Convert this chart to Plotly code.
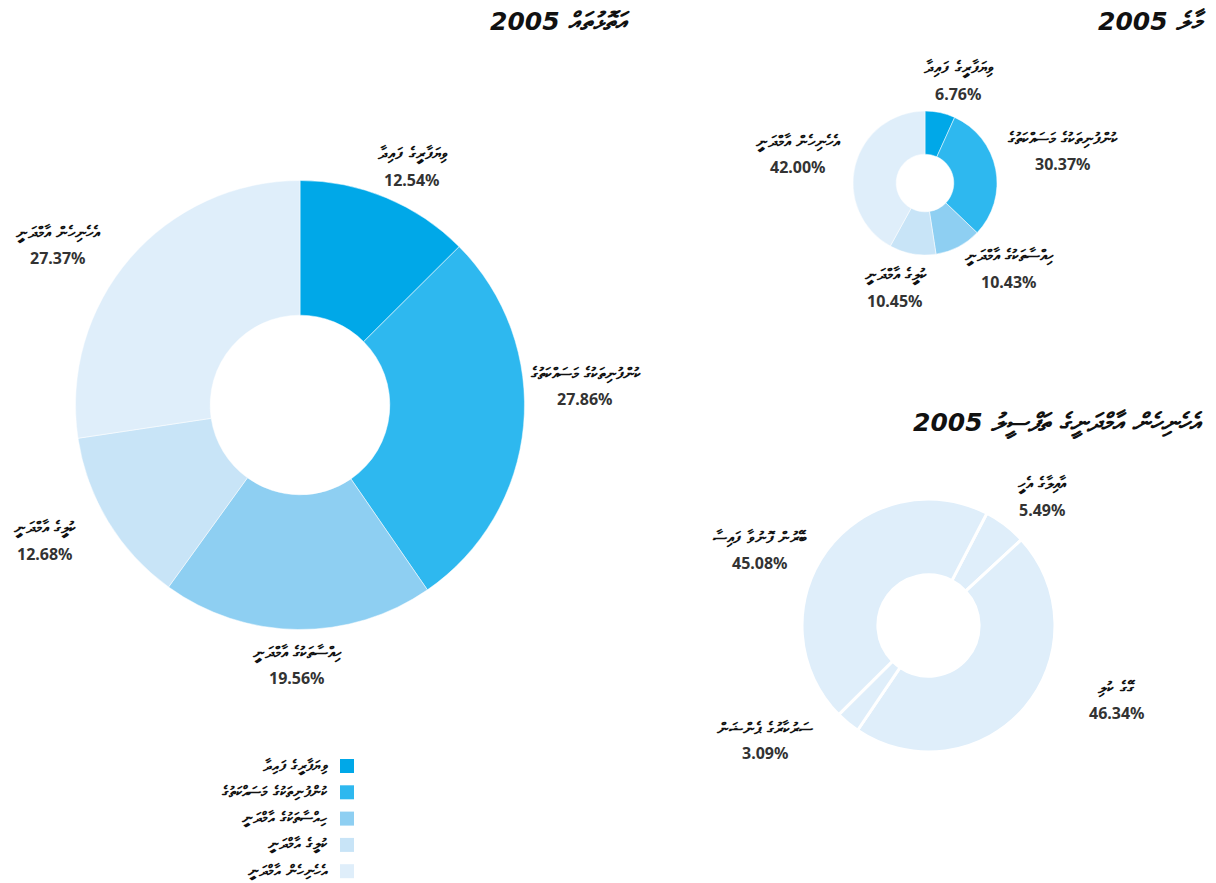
import math
import plotly.graph_objects as go

# data
categories = ["ވިޔަފާރީގެ ފައިދާ", "ކުންފުނިތަކުގެ މަސައްކަތުގެ", "ހިއްސާތަކުގެ އާމްދަނީ", "ކުލީގެ އާމްދަނީ", "އެހެނިހެން އާމްދަނީ"]
share_left = [12.54, 27.86, 19.56, 12.68, 27.37]
share_right = [6.76, 30.37, 10.43, 10.45, 42.00]
other_labels = ["އާއިލާގެ އެހީ", "ގޭގެ ކުލި", "ސަރުކާރުގެ ޕެންޝަން", "ބޭރުން ފޮނުވާ ފައިސާ"]
other_share = [5.49, 46.34, 3.09, 45.08]
titles = ["އަތޮޅުތައް", "މާލެ", "އެހެނިހެން އާމްދަނީގެ ތަފްސީލު"]
year = "2005"

colors = ["#00a8e8", "#2eb8ef", "#8ecff2", "#c8e4f7", "#dfeefa"]
other_color = "#dfeefa"

# page body has an 8px margin, so work in window pixels and shift
OFF = 8
W, H = 1216 - OFF, 883 - OFF
PCT_FONT = dict(family="Noto Sans", size=16, color="#333333")
LAB_FONT = dict(family="DejaVu Sans", size=16, color="#111111")


def px(x):
    return (x - OFF) / W


def py(y):
    return 1 - (y - OFF) / H


def domain(cx, cy, r):
    return dict(x=[px(cx - r), px(cx + r)], y=[py(cy + r), py(cy - r)])


def slice_labels(labels, values, cx, cy, r, start, shifts):
    out = []
    total = sum(values)
    acc = 0
    for lab, v, (sx, sy) in zip(labels, values, shifts):
        mid = math.radians(start + (acc + v / 2) / total * 360)
        acc += v
        d = r + 36 + 35 * abs(math.sin(mid))
        x = cx + d * math.sin(mid) + sx
        y = cy - d * math.cos(mid) + sy
        out.append(dict(x=px(x), y=py(y - 12.5), text=f"<b>{lab}</b>", font=LAB_FONT))
        out.append(dict(x=px(x), y=py(y + 12.5), text=f"<b>{v:.2f}%</b>", font=PCT_FONT))
    for a in out:
        a.update(xref="paper", yref="paper", showarrow=False, xanchor="center", yanchor="middle")
    return out


fig = go.Figure()

# values, labels, colours, centre x/y, radius, rotation, separator width, label nudges
pies = [
    (share_left, categories, colors, 300, 405, 224.5, 0, 0.5,
     [(7, 15), (-9, -46), (0, 0), (-7, -15), (-25, 28)]),
    (share_right, categories, colors, 925, 183, 72, 0, 0.5,
     [(9, 11), (-2, -4), (27, -24), (-10, -7), (10, 7)]),
    (other_share, other_labels, [other_color] * 4, 928.5, 625.5, 126.5, 27.5, 3,
     [(2, 18), (45, -48), (-46, -27), (-15, 38)]),
]

annotations = []
for vals, labs, cols, cx, cy, r, rot, lw, shifts in pies:
    fig.add_trace(go.Pie(
        values=vals, labels=labs, sort=False, direction="clockwise", rotation=rot,
        hole=0.4, textinfo="none", showlegend=False,
        marker=dict(colors=cols, line=dict(color="white", width=lw)),
        domain=domain(cx, cy, r),
    ))
    annotations += slice_labels(labs, vals, cx, cy, r, rot, shifts)

# titles
title_font = dict(family="DejaVu Sans", size=25, color="#111111")
for t, (xr, yc) in zip(titles, [(632, 21), (1208, 21), (1205, 423)]):
    annotations.append(dict(
        x=px(xr), y=py(yc), xref="paper", yref="paper", showarrow=False,
        xanchor="right", yanchor="middle", text=f"<b><i>{year} {t}</i></b>", font=title_font,
    ))

# legend, key boxes on the right of the text
shapes = []
for i, (lab, col) in enumerate(zip(categories, colors)):
    yc = 766 + i * 26.3
    shapes.append(dict(type="rect", xref="paper", yref="paper",
                       x0=px(340), x1=px(354), y0=py(yc + 7), y1=py(yc - 7),
                       fillcolor=col, line=dict(width=0)))
    annotations.append(dict(x=px(330), y=py(yc), xref="paper", yref="paper", showarrow=False,
                            xanchor="right", yanchor="middle", text=f"<b>{lab}</b>",
                            font=dict(family="DejaVu Sans", size=15, color="#111111")))

fig.update_layout(
    width=W, height=H,
    margin=dict(l=0, r=0, t=0, b=0),
    paper_bgcolor="white", plot_bgcolor="white",
    annotations=annotations, shapes=shapes,
)

fig.write_html("out.html")
